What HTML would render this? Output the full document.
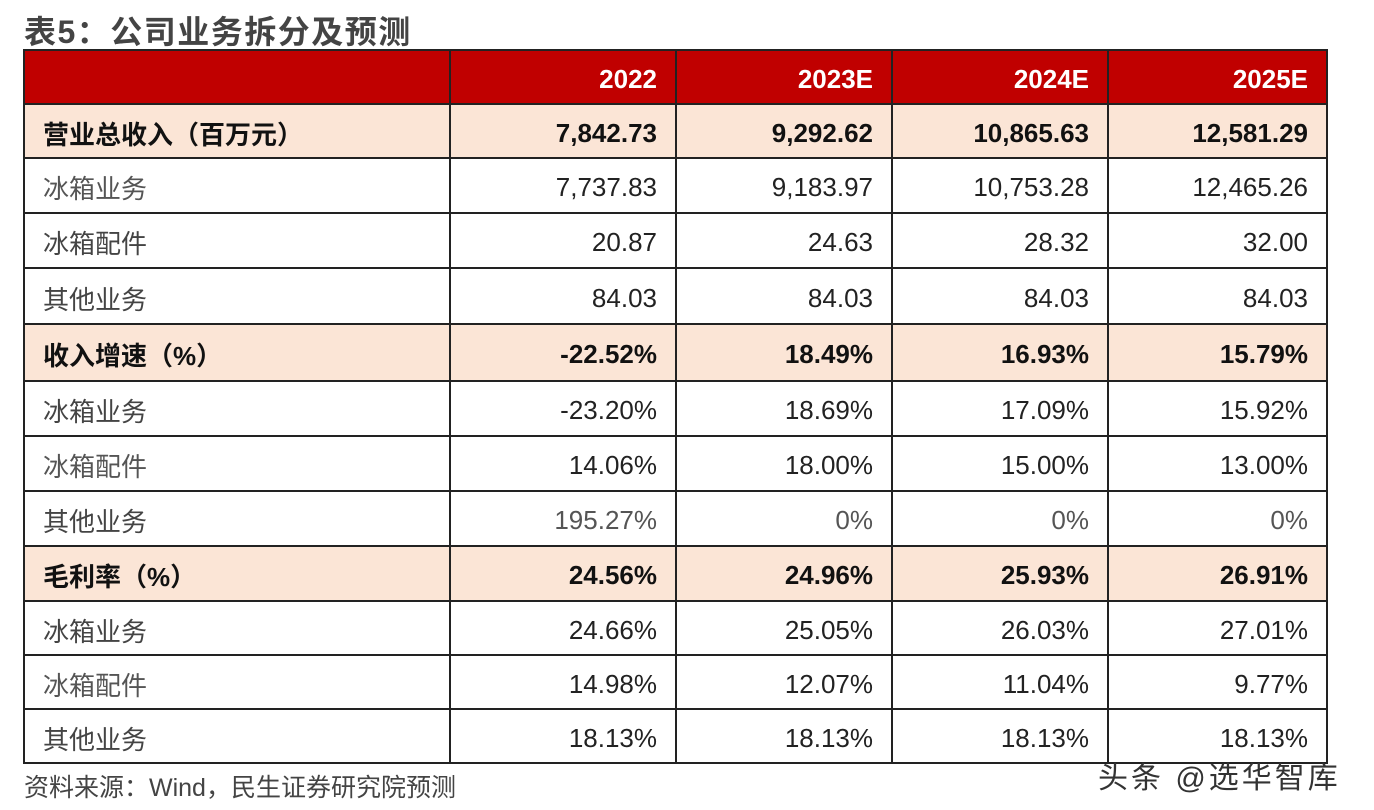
<!DOCTYPE html>
<html><head><meta charset="utf-8"><style>
body{margin:0;width:1374px;height:810px;background:#fff;font-family:"Liberation Sans","Noto Sans CJK SC",sans-serif;position:relative;overflow:hidden}
.t{position:absolute;left:24px;top:7px;font-size:32px;font-weight:bold;color:#444;letter-spacing:1.5px}
table{position:absolute;left:23px;top:49px;border-collapse:collapse;table-layout:fixed}
td{border:2px solid #222;font-size:26px;color:#222;padding:4px 18px 0 18px;text-align:right;box-sizing:border-box}
td:first-child{text-align:left;color:#444}
tr.h td{background:#c00000;color:#fff;font-weight:bold;border-color:#222}
tr.s td{background:#fbe5d6;font-weight:bold;color:#111}
tr.s td:first-child{color:#111}
.g{color:#555!important}
.f{position:absolute;left:24px;top:768px;font-size:25px;color:#444}
.w{position:absolute;left:1098px;top:753px;font-size:30px;color:#333;letter-spacing:3px}
</style></head><body>
<div class="t">表5：公司业务拆分及预测</div>
<table>
<colgroup><col style="width:426px"><col style="width:226px"><col style="width:216px"><col style="width:216px"><col style="width:219px"></colgroup>
<tr class="h" style="height:54px"><td></td><td>2022</td><td>2023E</td><td>2024E</td><td>2025E</td></tr>
<tr class="s" style="height:54px"><td>营业总收入（百万元）</td><td>7,842.73</td><td>9,292.62</td><td>10,865.63</td><td>12,581.29</td></tr>
<tr style="height:55px"><td class="g">冰箱业务</td><td>7,737.83</td><td>9,183.97</td><td>10,753.28</td><td>12,465.26</td></tr>
<tr style="height:55px"><td>冰箱配件</td><td>20.87</td><td>24.63</td><td>28.32</td><td>32.00</td></tr>
<tr style="height:56px"><td>其他业务</td><td>84.03</td><td>84.03</td><td>84.03</td><td>84.03</td></tr>
<tr class="s" style="height:57px"><td>收入增速（%）</td><td>-22.52%</td><td>18.49%</td><td>16.93%</td><td>15.79%</td></tr>
<tr style="height:55px"><td>冰箱业务</td><td>-23.20%</td><td>18.69%</td><td>17.09%</td><td>15.92%</td></tr>
<tr style="height:55px"><td class="g">冰箱配件</td><td>14.06%</td><td>18.00%</td><td>15.00%</td><td>13.00%</td></tr>
<tr style="height:55px"><td>其他业务</td><td class="g">195.27%</td><td class="g">0%</td><td class="g">0%</td><td class="g">0%</td></tr>
<tr class="s" style="height:55px"><td>毛利率（%）</td><td>24.56%</td><td>24.96%</td><td>25.93%</td><td>26.91%</td></tr>
<tr style="height:54px"><td>冰箱业务</td><td>24.66%</td><td>25.05%</td><td>26.03%</td><td>27.01%</td></tr>
<tr style="height:54px"><td class="g">冰箱配件</td><td>14.98%</td><td>12.07%</td><td>11.04%</td><td>9.77%</td></tr>
<tr style="height:54px"><td>其他业务</td><td>18.13%</td><td>18.13%</td><td>18.13%</td><td>18.13%</td></tr>
</table>
<div class="f">资料来源：Wind，民生证券研究院预测</div>
<div class="w">头条 @选华智库</div>
</body></html>
